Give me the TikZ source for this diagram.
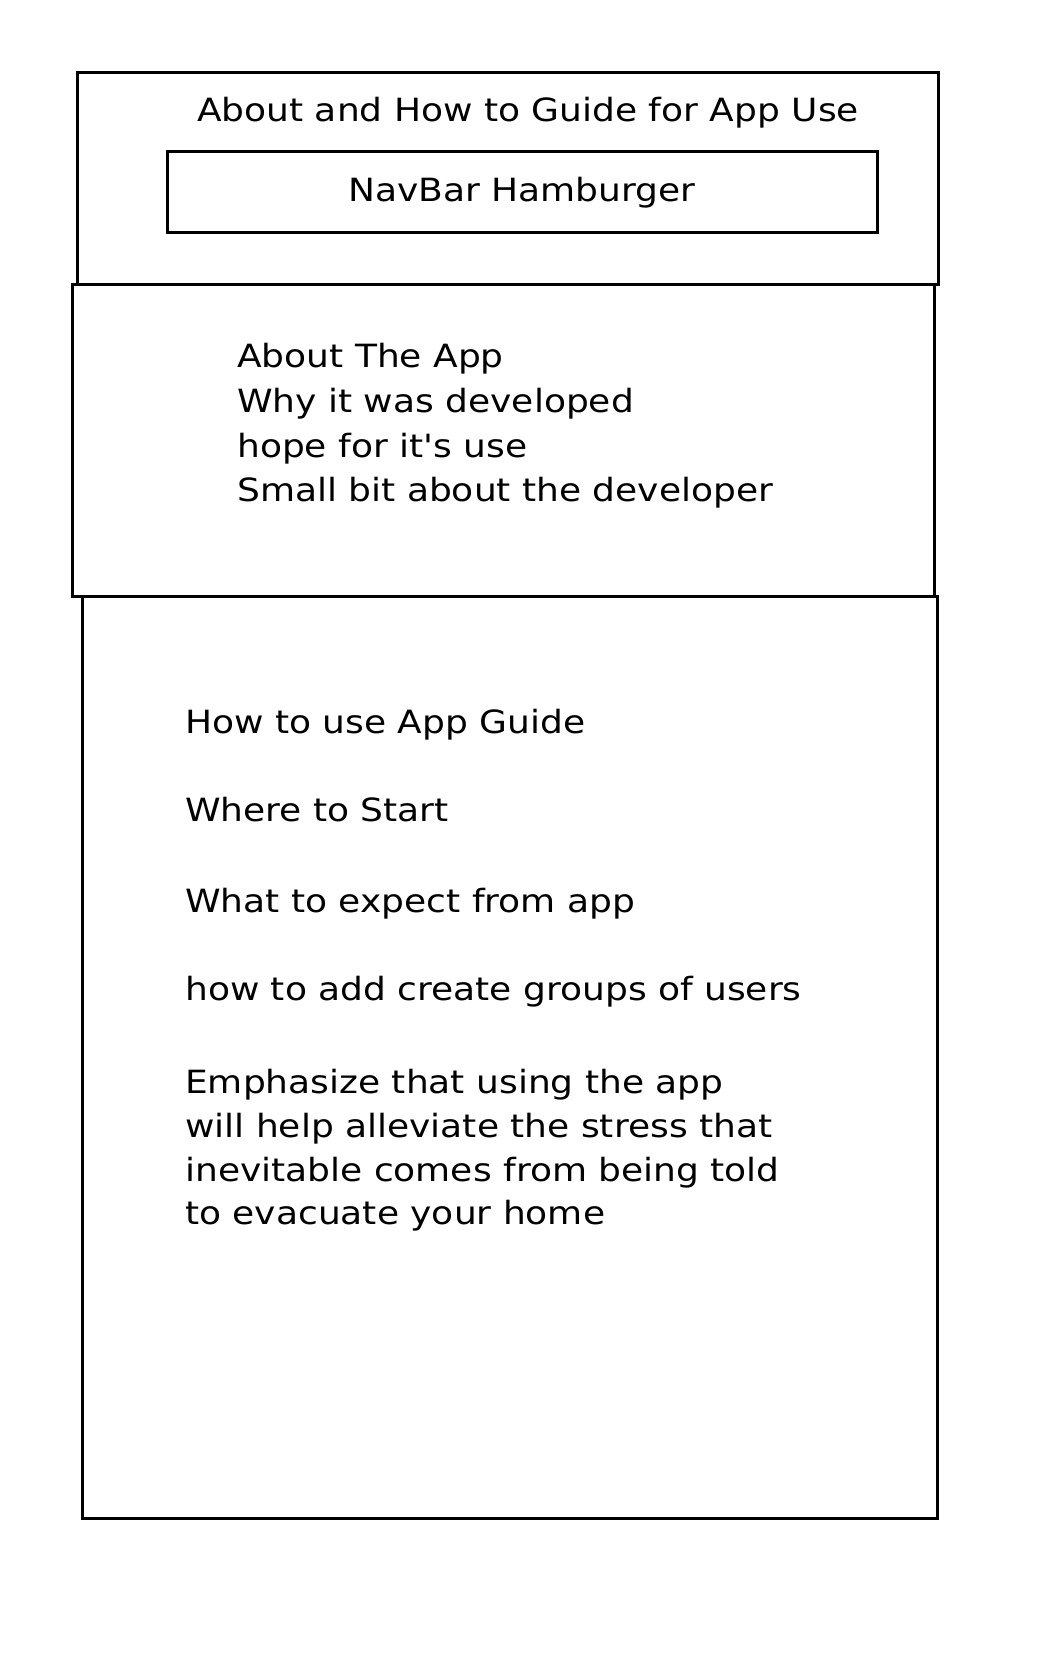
\documentclass[tikz,border=0pt]{standalone}
\usepackage{fontspec}
\setmainfont[FakeStretch=1.125,Ligatures=TeXOff]{DejaVu Sans}
\begin{document}
\begin{tikzpicture}[x=1pt,y=-1pt,
  panel/.style={draw=black,line width=3pt,inner sep=0pt,minimum width=#1},
  label/.style={inner sep=0pt,font=\fontsize{32}{38}\selectfont},
  line/.style={label,anchor=base west}]
\useasboundingbox[fill=white] (0,0) rectangle (1062,1656);

% header panel with the navigation bar inside it
\node[panel=861pt,minimum height=211pt] (header) at (507.5,178.5) {};
\node[panel=710pt,minimum height=80pt] (navbar) at (522,192) {};
\node[label,anchor=base] (title) at (528,122) {About and How to Guide for App Use};
\node[label,anchor=base] (navtext) at (522,201) {NavBar Hamburger};

% about section
\node[panel=862pt,minimum height=312pt] (about) at (503,440) {};
\node[line] (a1) at (237,367) {About The App};
\node[line] (a2) at (237,412) {Why it was developed};
\node[line] (a3) at (237,457) {hope for it's use};
\node[line] (a4) at (237,501) {Small bit about the developer};

% guide section
\node[panel=855pt,minimum height=922pt] (guide) at (509.5,1057) {};
\node[line] (g1) at (185,733) {How to use App Guide};
\node[line] (g2) at (185,821) {Where to Start};
\node[line] (g3) at (185,912) {What to expect from app};
\node[line] (g4) at (185,1000) {how to add create groups of users};
\node[line] (g5) at (185,1093) {Emphasize that using the app};
\node[line] (g6) at (185,1137) {will help alleviate the stress that};
\node[line] (g7) at (185,1181) {inevitable comes from being told};
\node[line] (g8) at (185,1224) {to evacuate your home};
\end{tikzpicture}
\end{document}
